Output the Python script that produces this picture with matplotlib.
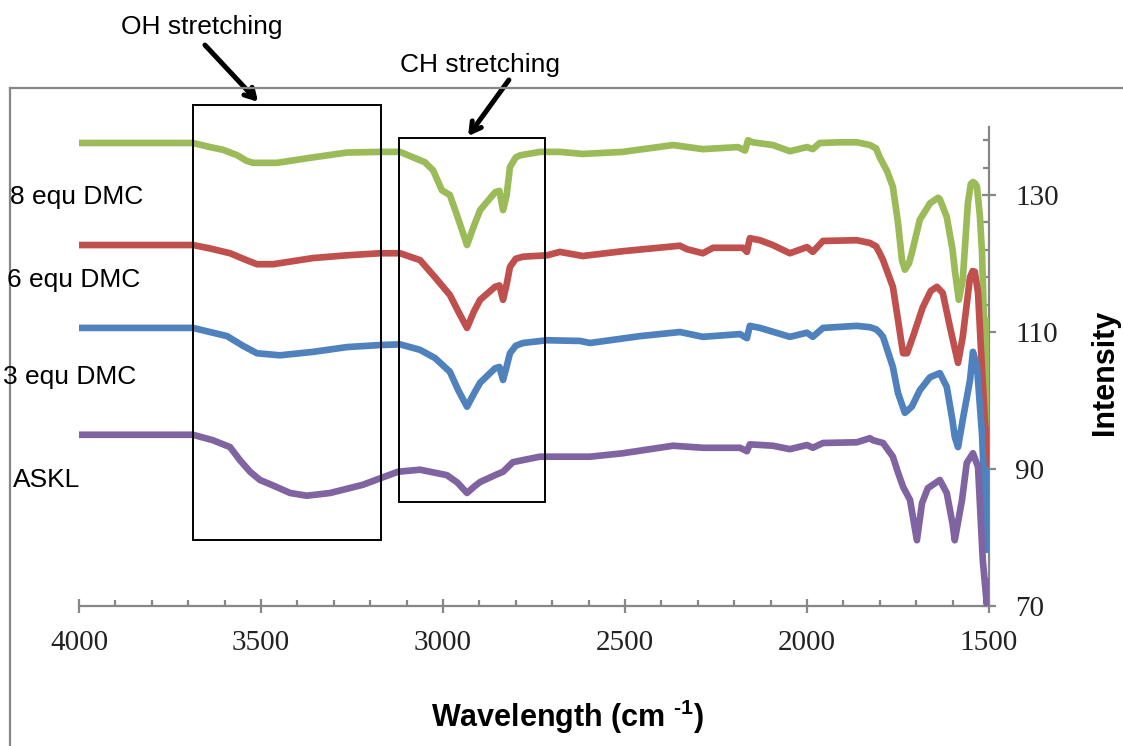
import matplotlib
matplotlib.use("Agg")
import matplotlib.pyplot as plt
from matplotlib.ticker import FixedLocator
from matplotlib.lines import Line2D
from matplotlib.patches import Rectangle
import numpy as np

# ---------------- data ----------------
series_names = ["8 equ DMC", "6 equ DMC", "3 equ DMC", "ASKL"]
series_colors = ["#9BBB59", "#C0504D", "#4F81BD", "#8064A2"]

green_x = [4000, 3850, 3723, 3687, 3640, 3604, 3565, 3540, 3522, 3456, 3357, 3264, 3173, 3118,
           3082, 3050, 3027, 3003, 2981, 2958, 2934, 2915, 2898, 2857, 2845, 2835, 2825, 2816,
           2800, 2788, 2734, 2679, 2616, 2506, 2368, 2286, 2190, 2170, 2162, 2149, 2094, 2047,
           2000, 1984, 1965, 1909, 1863, 1827, 1810, 1800, 1780, 1764, 1750, 1739, 1731, 1720,
           1712, 1690, 1662, 1640, 1635, 1616, 1600, 1594, 1583, 1572, 1558, 1550, 1544, 1538,
           1533, 1525, 1519, 1506, 1500]
green_y = [137.6, 137.6, 137.6, 137.6, 137.0, 136.6, 135.8, 135.0, 134.7, 134.7, 135.5, 136.2,
           136.3, 136.3, 135.5, 134.8, 133.6, 130.7, 130.0, 126.5, 122.7, 125.5, 127.8, 130.4,
           130.6, 127.8, 130.0, 134.1, 135.5, 135.8, 136.3, 136.3, 136.0, 136.3, 137.3, 136.7,
           137.0, 136.5, 138.0, 137.7, 137.3, 136.4, 137.0, 136.7, 137.6, 137.7, 137.7, 137.3,
           136.8, 135.5, 133.5, 131.2, 126.0, 120.5, 119.1, 120.0, 121.5, 126.4, 128.8, 129.6,
           129.4, 126.8, 122.0, 119.1, 114.7, 117.6, 128.8, 131.6, 131.9, 131.7, 131.2, 127.0,
           121.5, 96.7, 112.2]

red_x = [4000, 3723, 3687, 3640, 3585, 3540, 3511, 3467, 3357, 3264, 3173, 3118, 3063, 3022,
         2981, 2958, 2934, 2915, 2898, 2857, 2845, 2835, 2825, 2816, 2800, 2780, 2714, 2679,
         2616, 2506, 2349, 2330, 2286, 2258, 2176, 2165, 2157, 2129, 2094, 2047, 2000, 1984,
         1956, 1863, 1827, 1810, 1800, 1791, 1764, 1750, 1736, 1725, 1709, 1682, 1660, 1643,
         1627, 1607, 1585, 1572, 1552, 1545, 1539, 1530, 1519, 1503, 1500]
red_y = [122.7, 122.7, 122.7, 122.2, 121.5, 120.5, 119.9, 119.9, 120.8, 121.2, 121.5, 121.5,
         120.5, 118.0, 115.4, 113.0, 110.6, 113.0, 114.7, 116.6, 116.8, 114.7, 117.0, 119.5,
         120.7, 121.0, 121.2, 121.7, 121.1, 121.8, 122.6, 122.1, 121.5, 122.3, 122.3, 121.7,
         123.7, 123.4, 122.7, 121.5, 122.4, 121.7, 123.3, 123.4, 123.0, 122.5, 121.5, 120.5,
         116.6, 111.8, 106.9, 106.9, 109.3, 113.6, 116.0, 116.6, 115.7, 110.7, 105.5, 109.3,
         118.0, 118.9, 118.8, 115.7, 104.5, 89.4, 90.0]

blue_x = [4000, 3723, 3687, 3640, 3593, 3550, 3511, 3448, 3357, 3264, 3173, 3118, 3063, 3022,
          2981, 2958, 2934, 2915, 2898, 2857, 2845, 2835, 2825, 2816, 2800, 2780, 2714, 2624,
          2596, 2459, 2349, 2286, 2184, 2165, 2157, 2129, 2047, 2000, 1984, 1956, 1863, 1827,
          1810, 1800, 1791, 1764, 1750, 1731, 1712, 1690, 1662, 1635, 1616, 1600, 1594, 1585,
          1572, 1552, 1544, 1533, 1519, 1506, 1500]
blue_y = [110.6, 110.6, 110.6, 110.0, 109.4, 108.0, 106.9, 106.6, 107.1, 107.8, 108.1, 108.2,
          107.4, 106.2, 104.2, 101.5, 99.1, 101.0, 102.6, 104.7, 104.9, 103.0, 105.0, 106.9,
          108.0, 108.4, 108.8, 108.7, 108.4, 109.4, 110.0, 109.3, 109.7, 109.1, 110.9, 110.6,
          109.3, 109.9, 109.3, 110.6, 110.9, 110.7, 110.4, 109.9, 109.3, 104.9, 101.1, 98.2,
          99.1, 101.5, 103.4, 104.0, 102.0, 97.0, 94.7, 93.2, 97.2, 103.0, 107.1, 105.0, 95.0,
          78.2, 90.3]

purple_x = [4000, 3723, 3687, 3632, 3585, 3558, 3530, 3503, 3467, 3420, 3374, 3310, 3220,
            3124, 3063, 2989, 2960, 2934, 2915, 2898, 2857, 2835, 2808, 2734, 2596, 2506,
            2368, 2286, 2184, 2165, 2157, 2094, 2047, 2000, 1984, 1956, 1863, 1827, 1819,
            1791, 1764, 1750, 1736, 1717, 1698, 1684, 1668, 1635, 1616, 1600, 1594, 1574,
            1561, 1544, 1530, 1517, 1506, 1500]
purple_y = [95.0, 95.0, 95.0, 94.2, 93.2, 91.3, 89.6, 88.4, 87.6, 86.5, 86.1, 86.5, 87.7,
            89.6, 89.9, 89.1, 88.0, 86.5, 87.4, 88.1, 89.1, 89.6, 91.0, 91.8, 91.8, 92.3,
            93.4, 93.1, 93.1, 92.6, 93.6, 93.4, 92.9, 93.5, 93.1, 93.8, 93.9, 94.5, 94.2,
            93.8, 91.8, 89.5, 87.4, 85.5, 79.6, 85.0, 87.2, 88.4, 86.5, 82.0, 79.6, 85.5,
            90.9, 92.3, 90.3, 76.7, 70.3, 74.0]

series_x = [green_x, red_x, blue_x, purple_x]
series_y = [green_y, red_y, blue_y, purple_y]

x_major = [4000, 3500, 3000, 2500, 2000, 1500]
y_major = [70, 90, 110, 130]

oh_box = (3687, 3170, 79.6, 143.1)   # x_left, x_right, y_bottom, y_top
ch_box = (3121, 2720, 85.2, 138.3)
oh_arrow = ((3654, 151.9), (3508, 143.6))  # tail, tip
ch_arrow = ((2819, 146.8), (2931, 138.6))

# ---------------- figure ----------------
plt.rcParams['font.family'] = ['Liberation Sans', 'DejaVu Sans']
plt.rcParams['mathtext.fontset'] = 'custom'
plt.rcParams['mathtext.bf'] = 'Liberation Sans:bold'
plt.rcParams['mathtext.rm'] = 'Liberation Sans:bold'

fig = plt.figure(figsize=(11.23, 7.46), dpi=100)
ax = fig.add_axes([0.07035, 0.18767, 0.8103, 0.6427])

for xs, ys, c in zip(series_x, series_y, series_colors):
    ax.plot(xs, ys, color=c, lw=4.8, solid_joinstyle='round', solid_capstyle='butt', zorder=3)

ax.set_xlim(4000, 1500)
ax.set_ylim(70, 140)

axis_gray = '#878787'
for s in ['top', 'left']:
    ax.spines[s].set_visible(False)
for s in ['bottom', 'right']:
    ax.spines[s].set_color(axis_gray)
    ax.spines[s].set_linewidth(1.6)

ax.yaxis.tick_right()
ax.xaxis.set_major_locator(FixedLocator(x_major))
ax.xaxis.set_minor_locator(FixedLocator(np.arange(1500, 4001, 100)))
ax.yaxis.set_major_locator(FixedLocator(y_major))
ax.yaxis.set_minor_locator(FixedLocator(np.arange(70, 140, 4)))

ax.tick_params(which='major', direction='inout', length=10, width=1.6, color=axis_gray,
               labelcolor='#222222')
ax.tick_params(which='minor', direction='in', length=4.5, width=1.6, color=axis_gray)
ax.tick_params(axis='x', which='major', pad=12)
ax.tick_params(axis='y', which='major', pad=14)
for lab in ax.get_xticklabels() + ax.get_yticklabels():
    lab.set_fontfamily('Liberation Serif')
    lab.set_fontsize(21)

# annotation boxes
for (x0, x1, y0, y1) in [oh_box, ch_box]:
    r = Rectangle((x0, y0), x1 - x0, y1 - y0, fill=False, ec='black', lw=1.4,
                  clip_on=False, zorder=4)
    ax.add_patch(r)

for tail, tip in [oh_arrow, ch_arrow]:
    ax.annotate('', xy=tip, xytext=tail, xycoords='data', textcoords='data',
                annotation_clip=False,
                arrowprops=dict(arrowstyle='->,head_length=0.7,head_width=0.4',
                                lw=3.6, color='black', shrinkA=0, shrinkB=0))

W, H = 1123.0, 746.0
fig.text(202 / W, 1 - 27 / H, 'OH stretching', fontsize=19, ha='center', va='center')
fig.text(480 / W, 1 - 65 / H, 'CH stretching', fontsize=19, ha='center', va='center')

label_pos = [(10, 197), (7, 280), (3, 377), (13, 480)]
for name, (px, py) in zip(series_names, label_pos):
    fig.text(px / W, 1 - py / H, name, fontsize=19, ha='left', va='center')

fig.text(568 / W, 1 - 717 / H, r'Wavelength (cm $^{\text{-1}}$)', fontsize=22,
         fontweight='bold', ha='center', va='center')
fig.text(1105 / W, 1 - 372 / H, 'Intensity', fontsize=22, fontweight='bold',
         rotation=90, ha='center', va='center')

# outer frame
fig.add_artist(Line2D([10 / W, 10 / W], [0, 1 - 88 / H], color=axis_gray, lw=1.6))
fig.add_artist(Line2D([10 / W, 1], [1 - 88 / H, 1 - 88 / H], color=axis_gray, lw=1.6))

fig.savefig('out.png', dpi=100)
